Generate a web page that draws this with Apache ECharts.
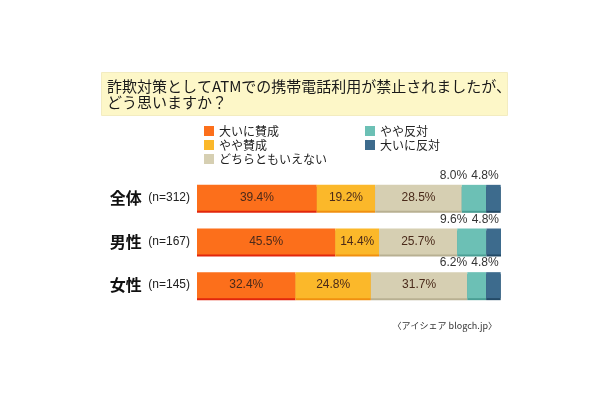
<!DOCTYPE html>
<html><head><meta charset="utf-8">
<script src="https://cdn.jsdelivr.net/npm/echarts@6/dist/echarts.min.js"></script>
<style>html,body{margin:0;padding:0;background:#fff}#c{width:610px;height:400px}</style>
</head><body><div id="c"></div>
<script>
const titleLines = ['詐欺対策としてATMでの携帯電話利用が禁止されましたが、', 'どう思いますか？'];
const categories = ['全体', '男性', '女性'];
const sampleSizes = ['(n=312)', '(n=167)', '(n=145)'];
const seriesNames = ['大いに賛成', 'やや賛成', 'どちらともいえない', 'やや反対', '大いに反対'];
const strongAgree = [39.4, 45.5, 32.4];
const agree = [19.2, 14.4, 24.8];
const neutral = [28.5, 25.7, 31.7];
const disagree = [8.0, 9.6, 6.2];
const strongDisagree = [4.8, 4.8, 4.8];
const sourceText = '〈アイシェア blogch.jp〉';

const values = [strongAgree, agree, neutral, disagree, strongDisagree];
const colors = ['#fc6f1b', '#fbb82a', '#d6cfb2', '#6cc0b5', '#3d6b8d'];
const shadows = ['#e2260c', '#f09010', '#b8b092', '#4a9e94', '#234a66'];
const FONT = '"Noto Sans CJK JP", "Noto Sans", sans-serif';
const NUMFONT = '"Liberation Sans", Arial, sans-serif';

function labelFor(i) {
  const fmt = p => p.value.toFixed(1) + '%';
  if (i < 3) return { show: true, position: 'inside', color: '#4a2a1a', fontSize: 12, fontFamily: NUMFONT, formatter: fmt };
  return { show: true, position: ['100%', 0], align: 'right', verticalAlign: 'bottom',
    offset: i === 3 ? [-19, -3] : [-2, -3], color: '#333', fontSize: 12, fontFamily: NUMFONT, formatter: fmt };
}

const chart = echarts.init(document.getElementById('c'));
chart.setOption({
  animation: false,
  backgroundColor: '#fff',
  graphic: [
    { type: 'rect', left: 101, top: 72, shape: { width: 406, height: 43 },
      style: { fill: '#fdf7c8', stroke: '#f3ecc0', lineWidth: 1 } },
    { type: 'text', left: 107, top: 79, style: { text: titleLines[0], font: '15px ' + FONT, fill: '#1a1a1a' } },
    { type: 'text', left: 107, top: 95, style: { text: titleLines[1], font: '15px ' + FONT, fill: '#1a1a1a' } },
    { type: 'text', right: 113, top: 321, style: { text: sourceText, font: '9px ' + FONT, fill: '#333' } }
  ],
  legend: [
    { data: seriesNames.slice(0, 3), left: 199, top: 120, orient: 'vertical', itemWidth: 10, itemHeight: 10, itemGap: 2,
      icon: 'rect', textStyle: { fontSize: 12, fontFamily: FONT, color: '#222' }, selectedMode: false },
    { data: seriesNames.slice(3), left: 360, top: 120, orient: 'vertical', itemWidth: 10, itemHeight: 10, itemGap: 2,
      icon: 'rect', textStyle: { fontSize: 12, fontFamily: FONT, color: '#222' }, selectedMode: false }
  ],
  grid: { left: 197, right: 109, top: 176, height: 131, containLabel: false },
  xAxis: { type: 'value', min: 0, max: 100, show: false },
  yAxis: {
    type: 'category', data: categories, inverse: true,
    axisLine: { show: false }, axisTick: { show: false }, splitLine: { show: false },
    axisLabel: {
      margin: 7,
      formatter: (v, i) => '{a|' + v + '}  {b|' + sampleSizes[i] + '}',
      rich: {
        a: { fontSize: 16, fontFamily: FONT, color: '#111', fontWeight: 'bold' },
        b: { fontSize: 12, fontFamily: NUMFONT, color: '#222' }
      }
    }
  },
  series: seriesNames.map((name, i) => ({
    name, type: 'bar', stack: 'total', data: values[i], barWidth: 26,
    itemStyle: { color: colors[i], shadowColor: shadows[i], shadowOffsetY: 2, shadowBlur: 0 },
    label: labelFor(i)
  }))
});
</script></body></html>
